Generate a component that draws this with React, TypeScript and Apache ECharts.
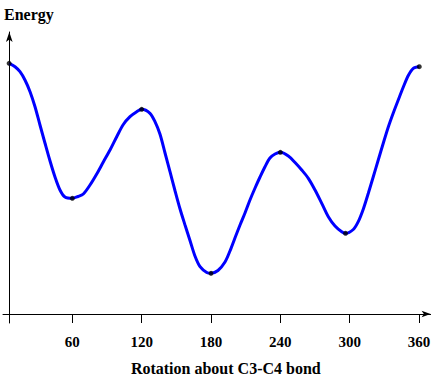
import React, { useEffect, useRef } from "react";
import * as echarts from "echarts";

// rotation angle (degrees) and relative energy
const curveAngles = [5.3, 10.4, 14.7, 19.0, 23.4, 27.7, 32.0, 36.3, 40.7, 45.0, 49.3, 53.6, 60, 64.9, 69.5, 75.3, 81.1, 86.8, 92.6, 98.4, 104.1, 109.9, 115.7, 120, 127.2, 131.5, 135.8, 140.2, 144.5, 148.8, 153.2, 157.5, 161.8, 166.1, 170.5, 176.3, 180, 186.0, 192.1, 196.4, 200.7, 205.1, 209.4, 213.7, 218.1, 222.4, 226.7, 231.0, 235.4, 240, 246.9, 252.7, 258.5, 264.2, 270.0, 275.8, 281.5, 287.3, 293.1, 296.4, 303.1, 307.4, 311.8, 316.1, 320.4, 324.7, 329.1, 333.4, 337.7, 342.0, 346.4, 350.7, 355.0, 360.2];
const curveEnergy = [250.7, 247.3, 242.3, 234, 222.3, 207.3, 189, 171, 153, 137, 124, 117, 115.7, 117.5, 120, 129, 140, 152, 164, 177.3, 189.5, 197.3, 202.3, 204.7, 200.7, 192.3, 180, 161, 142.3, 123.5, 105, 89, 73.5, 58, 47.3, 41.5, 40.7, 43.5, 52, 63, 76, 89, 101, 114, 126, 137, 147.3, 156, 160, 161.7, 158, 151.5, 144, 135.7, 124, 110.7, 97.3, 88, 82.3, 80.7, 84.5, 92.3, 105, 120.7, 137.3, 154, 171, 187, 201, 214, 227, 238.5, 245.7, 247.3];
const pointAngles = [5.3, 60, 120, 180, 240, 296.4, 360.2];
const pointEnergy = [250.7, 115.7, 204.7, 40.7, 161.7, 80.7, 247.3];
const tickValues = [60, 120, 180, 240, 300, 360];

export default function App() {
  const ref = useRef<HTMLDivElement>(null);
  useEffect(() => {
    if (!ref.current) return;
    const chart = echarts.init(ref.current, undefined, { renderer: "svg" });
    const font = "'Liberation Serif', 'Times New Roman', serif";
    chart.setOption({
      animation: false,
      backgroundColor: "#ffffff",
      grid: { left: 3, top: 32, width: 427.6, height: 291, containLabel: false, outerBoundsMode: "none" },
      xAxis: {
        type: "value",
        min: 0,
        max: 370,
        interval: 60,
        splitLine: { show: false },
        axisLine: {
          onZero: true,
          symbol: ["none", "arrow"],
          symbolSize: [5, 9],
          lineStyle: { color: "#000", width: 1 },
        },
        axisTick: { show: true, customValues: tickValues, length: 9, lineStyle: { color: "#000" } },
        axisLabel: {
          customValues: tickValues,
          margin: 11,
          color: "#000",
          fontFamily: font,
          fontWeight: "bold",
          fontSize: 15,
        },
        name: "Rotation about C3-C4 bond",
        nameLocation: "middle",
        nameGap: 37,
        nameTextStyle: {
          color: "#000",
          fontFamily: font,
          fontWeight: "bold",
          fontSize: 16,
          padding: [0, 0, 0, 18],
        },
      },
      yAxis: {
        type: "value",
        min: -9,
        max: 282,
        offset: -6.3,
        splitLine: { show: false },
        axisLine: {
          show: true,
          onZero: false,
          symbol: ["none", "arrow"],
          symbolSize: [5, 10],
          lineStyle: { color: "#000", width: 1 },
        },
        axisTick: { show: false },
        axisLabel: { show: false },
      },
      graphic: [
        {
          type: "text",
          left: 4,
          top: 6,
          style: { text: "Energy", fill: "#000", font: `bold 16px ${font}` },
        },
      ],
      series: [
        {
          type: "line",
          data: curveAngles.map((a, i) => [a, curveEnergy[i]]),
          smooth: 0.3,
          showSymbol: false,
          lineStyle: { color: "#0000ff", width: 3 },
          z: 2,
        },
        {
          type: "scatter",
          data: pointAngles.map((a, i) => [a, pointEnergy[i]]),
          symbolSize: 5,
          itemStyle: { color: "#000" },
          z: 3,
        },
      ],
    });
    return () => chart.dispose();
  }, []);
  return <div ref={ref} style={{ width: 442, height: 379, position: "absolute", left: 0, top: 0 }} />;
}
